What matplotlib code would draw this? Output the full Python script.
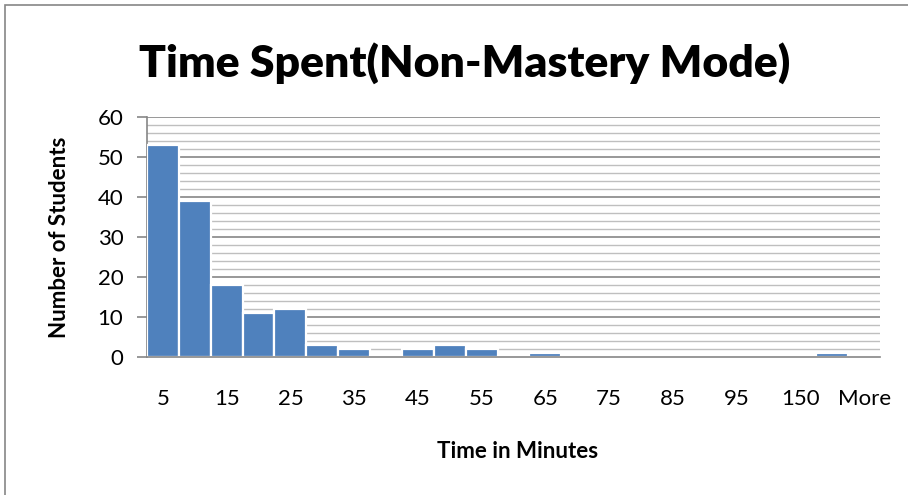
import matplotlib
matplotlib.use("Agg")
import matplotlib.pyplot as plt
from matplotlib.patches import Rectangle
from matplotlib.ticker import MultipleLocator

plt.rcParams['font.family'] = ['Lato', 'DejaVu Sans']

categories = ['5', '10', '15', '20', '25', '30', '35', '40', '45', '50', '55', '60',
              '65', '70', '75', '80', '85', '90', '95', '100', '150', '200', 'More']
students = [53, 39, 18, 11, 12, 3, 2, 0, 2, 3, 2, 0,
            1, 0, 0, 0, 0, 0, 0, 0, 0, 1, 0]

W, H = 908, 495
fig = plt.figure(figsize=(W / 100, H / 100), dpi=100)
ax = fig.add_axes([147 / W, 1 - 357 / H, (880 - 147) / W, (357 - 117) / H])

x = list(range(len(categories)))
ax.bar(x, students, width=1.0, color='#4F81BD', edgecolor='white', linewidth=1.6, zorder=3)

ax.set_xlim(-0.5, len(categories) - 0.5)
ax.set_ylim(0, 60)
ax.yaxis.set_major_locator(MultipleLocator(10))
ax.yaxis.set_minor_locator(MultipleLocator(2))
ax.grid(axis='y', which='major', color='#868686', linewidth=1.2, zorder=0)
ax.grid(axis='y', which='minor', color='#BFBFBF', linewidth=1.0, zorder=0)
ax.set_axisbelow(True)

for s in ['top', 'right']:
    ax.spines[s].set_visible(False)
for s in ['left', 'bottom']:
    ax.spines[s].set_color('#868686')
    ax.spines[s].set_linewidth(1.2)
ax.spines['bottom'].set_zorder(4)

ax.set_xticks(x[::2])
ax.set_xticklabels(categories[::2])
ax.tick_params(axis='x', length=0, pad=23, labelsize=16)
ax.tick_params(axis='y', which='major', length=7, width=1.2, color='#868686', pad=10, labelsize=16)
ax.tick_params(axis='y', which='minor', length=0)

fig.text(465 / W, 1 - 63 / H, 'Time Spent(Non-Mastery Mode)', fontsize=32, fontweight='heavy',
         ha='center', va='center')
fig.text(60 / W, 1 - 237 / H, 'Number of Students', fontsize=16, fontweight='bold',
         rotation=90, ha='center', va='center')
fig.text(518 / W, 1 - 452 / H, 'Time in Minutes', fontsize=16, fontweight='bold',
         ha='center', va='center')

# chart area border
fig.patches.append(Rectangle((5 / W, -0.1), 1.2, 1 - 5 / H + 0.1, transform=fig.transFigure,
                             fill=False, edgecolor='#868686', linewidth=1.2))

fig.savefig('out.png', dpi=100)
